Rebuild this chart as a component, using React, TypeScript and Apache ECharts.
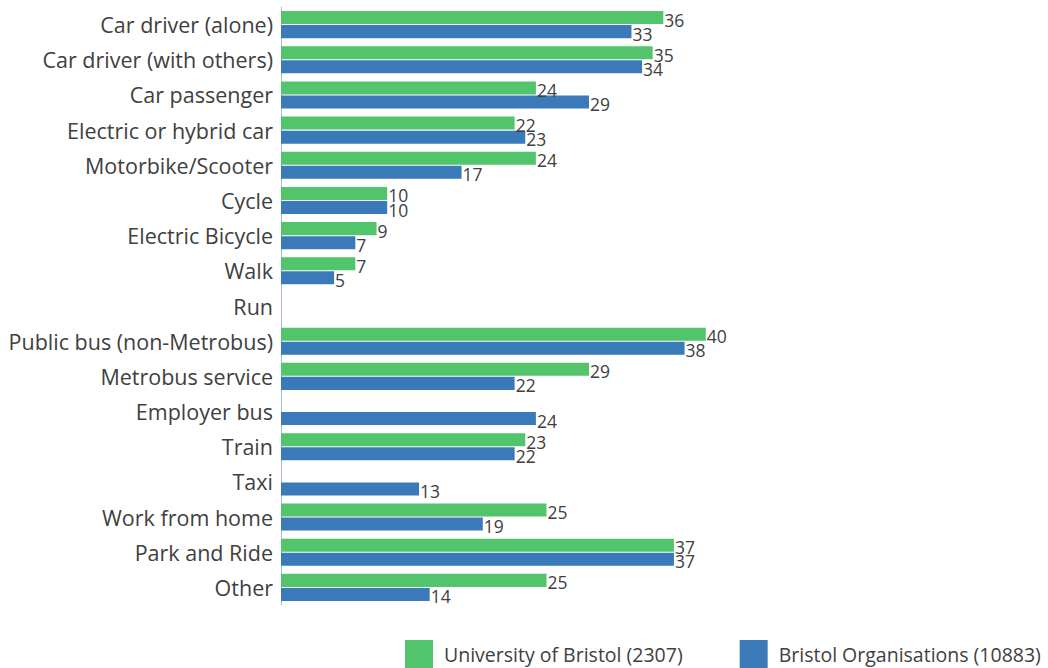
import React, { useEffect, useRef } from "react";
import * as echarts from "echarts";

const categories = [
  "Car driver (alone)",
  "Car driver (with others)",
  "Car passenger",
  "Electric or hybrid car",
  "Motorbike/Scooter",
  "Cycle",
  "Electric Bicycle",
  "Walk",
  "Run",
  "Public bus (non-Metrobus)",
  "Metrobus service",
  "Employer bus",
  "Train",
  "Taxi",
  "Work from home",
  "Park and Ride",
  "Other",
];

const universityValues: (number | null)[] = [36, 35, 24, 22, 24, 10, 9, 7, null, 40, 29, null, 23, null, 25, 37, 25];
const organisationValues: (number | null)[] = [33, 34, 29, 23, 17, 10, 7, 5, null, 38, 22, 24, 22, 13, 19, 37, 14];

const seriesNames = ["University of Bristol (2307)", "Bristol Organisations (10883)"];

export default function App() {
  const ref = useRef<HTMLDivElement>(null);
  useEffect(() => {
    document.body.style.margin = "0";
    const chart = echarts.init(ref.current!, null, { renderer: "svg" });
    const font = "Open Sans";
    const labelStyle = {
      show: true,
      position: "right" as const,
      distance: 1,
      offset: [0, 2],
      color: "#404040",
      fontSize: 17.5,
      fontFamily: font,
    };
    chart.setOption({
      animation: false,
      grid: { left: 281, top: 7, width: 531, height: 598, containLabel: false },
      legend: {
        bottom: 0,
        left: 405,
        padding: 0,
        itemWidth: 28,
        itemHeight: 28,
        itemGap: 57,
        icon: "rect",
        textStyle: { color: "#404040", fontSize: 19.5, fontFamily: font, padding: [2, 0, 0, 6] },
        data: seriesNames,
      },
      xAxis: {
        type: "value",
        min: 0,
        max: 50,
        show: false,
      },
      yAxis: {
        type: "category",
        inverse: true,
        data: categories,
        axisLine: { show: true, lineStyle: { color: "#a6bcd6", width: 1 } },
        axisTick: { show: false },
        axisLabel: {
          color: "#404040",
          fontSize: 21.5,
          fontFamily: font,
          margin: 8,
          lineHeight: 22,
          verticalAlign: "middle",
          padding: [0, 0, 7, 0],
        },
      },
      series: [
        {
          name: seriesNames[0],
          type: "bar",
          data: universityValues,
          itemStyle: { color: "#52c46c" },
          barGap: "8%",
          barCategoryGap: "23%",
          label: labelStyle,
        },
        {
          name: seriesNames[1],
          type: "bar",
          data: organisationValues,
          itemStyle: { color: "#3a7ab8" },
          barGap: "8%",
          barCategoryGap: "23%",
          label: labelStyle,
        },
      ],
    });
    return () => chart.dispose();
  }, []);
  return <div ref={ref} style={{ width: 1048, height: 668 }} />;
}
